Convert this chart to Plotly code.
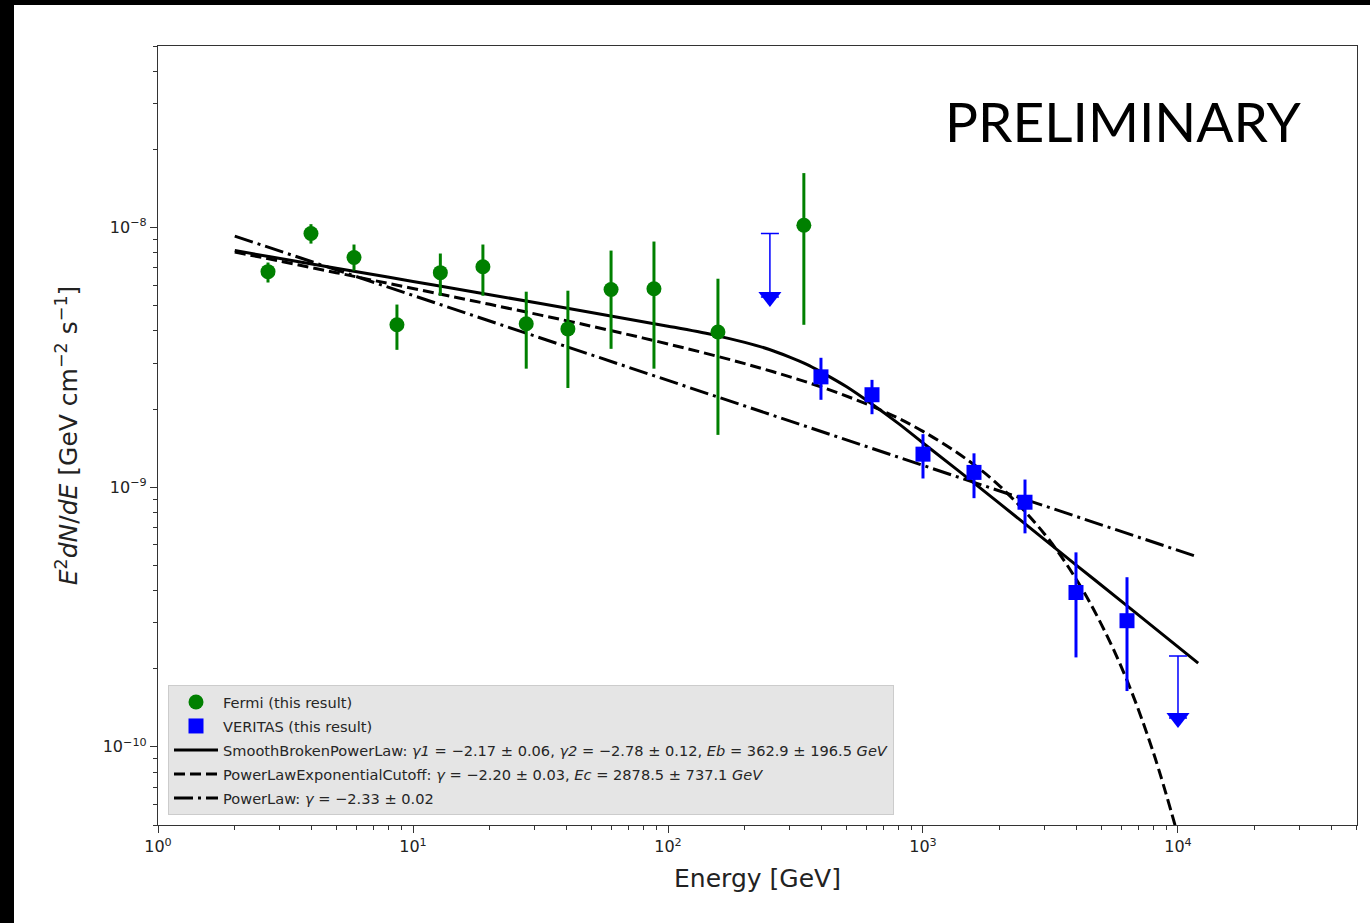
import plotly.graph_objects as go

# ---------------- data ----------------
fermi_E = [2.70, 3.98, 5.87, 8.65, 12.8, 18.8, 27.8, 40.5, 59.8, 88.1, 157, 341]
fermi_F = [6.76e-9, 9.48e-9, 7.66e-9, 4.22e-9, 6.70e-9, 7.06e-9, 4.26e-9, 4.07e-9, 5.77e-9, 5.81e-9, 3.96e-9, 1.02e-8]
fermi_hi = [7.33e-9, 1.03e-8, 8.60e-9, 5.05e-9, 7.94e-9, 8.60e-9, 5.66e-9, 5.71e-9, 8.15e-9, 8.83e-9, 6.35e-9, 1.62e-8]
fermi_lo = [6.14e-9, 8.67e-9, 6.82e-9, 3.38e-9, 5.46e-9, 5.46e-9, 2.86e-9, 2.41e-9, 3.41e-9, 2.86e-9, 1.59e-9, 4.22e-9]

veritas_E = [398, 631, 1000, 1585, 2512, 3981, 6310]
veritas_F = [2.66e-9, 2.27e-9, 1.34e-9, 1.14e-9, 8.75e-10, 3.93e-10, 3.06e-10]
veritas_hi = [3.15e-9, 2.59e-9, 1.60e-9, 1.35e-9, 1.07e-9, 5.61e-10, 4.50e-10]
veritas_lo = [2.17e-9, 1.91e-9, 1.08e-9, 9.07e-10, 6.64e-10, 2.21e-10, 1.64e-10]

ul_E = [251, 10000]
ul_F = [9.48e-9, 2.24e-10]
ul_tip = [5.4e-9, 1.29e-10]

sbpl_E = [2, 5, 10, 20, 50, 100, 150, 200, 250, 300, 350, 400, 500, 630, 800, 1000, 1600, 2500, 4000, 6300, 12000]
sbpl_F = [8.15e-9, 6.97e-9, 6.20e-9, 5.51e-9, 4.71e-9, 4.17e-9, 3.86e-9, 3.61e-9, 3.39e-9, 3.17e-9,
          2.97e-9, 2.77e-9, 2.44e-9, 2.09e-9, 1.76e-9, 1.48e-9, 1.03e-9, 7.25e-10, 5.00e-10, 3.50e-10, 2.10e-10]

plec_E = [2, 5, 10, 20, 50, 100, 200, 400, 700, 1000, 1500, 2000, 3000, 4000, 5000, 6300, 8000, 10000]
plec_F = [8.05e-9, 6.70e-9, 5.82e-9, 5.06e-9, 4.17e-9, 3.56e-9, 2.99e-9, 2.43e-9, 1.96e-9, 1.64e-9,
          1.27e-9, 1.01e-9, 6.59e-10, 4.40e-10, 2.97e-10, 1.81e-10, 9.53e-11, 4.55e-11]

pl_E = [2, 5, 10, 20, 50, 100, 200, 500, 1000, 2000, 5000, 12000]
pl_F = [9.27e-9, 6.87e-9, 5.47e-9, 4.36e-9, 3.23e-9, 2.58e-9, 2.06e-9, 1.52e-9, 1.21e-9, 9.68e-10, 7.16e-10, 5.38e-10]

x_major = [1, 10, 100, 1000, 10000]
x_major_text = ["10<sup>0</sup>", "10<sup>1</sup>", "10<sup>2</sup>", "10<sup>3</sup>", "10<sup>4</sup>"]
y_major = [1e-10, 1e-9, 1e-8]
y_major_text = ["10<sup>\u221210</sup>", "10<sup>\u22129</sup>", "10<sup>\u22128</sup>"]

labels = [
    "Fermi (this result)",
    "VERITAS (this result)",
    "SmoothBrokenPowerLaw: <i>\u03b31</i> = \u22122.17 \u00b1 0.06, <i>\u03b32</i> = \u22122.78 \u00b1 0.12, <i>Eb</i> = 362.9 \u00b1 196.5 <i>GeV</i>",
    "PowerLawExponentialCutoff: <i>\u03b3</i> = \u22122.20 \u00b1 0.03, <i>Ec</i> = 2878.5 \u00b1 737.1 <i>GeV</i>",
    "PowerLaw: <i>\u03b3</i> = \u22122.33 \u00b1 0.02",
]

x_minor = [m * 10 ** k for k in range(0, 5) for m in range(2, 10)]
y_minor = [m * 10.0 ** k for k in range(-11, -7) for m in range(2, 10)]

FONT = "DejaVu Sans"
fig = go.Figure()

# model lines
fig.add_trace(go.Scatter(x=sbpl_E, y=sbpl_F, mode="lines", name=labels[2], legendgroup="c", legendrank=3,
                         line=dict(color="black", width=3, shape="spline")))
fig.add_trace(go.Scatter(x=plec_E, y=plec_F, mode="lines", name=labels[3], legendgroup="d", legendrank=4,
                         line=dict(color="black", width=3, dash="11px,5px", shape="spline")))
fig.add_trace(go.Scatter(x=pl_E, y=pl_F, mode="lines", name=labels[4], legendgroup="e", legendrank=5,
                         line=dict(color="black", width=3, dash="19px,5px,3px,5px")))

# upper limits
fig.add_trace(go.Scatter(
    x=ul_E, y=ul_tip, mode="markers", showlegend=False,
    marker=dict(symbol="triangle-down", size=20, color="#0000ff"),
    error_y=dict(type="data", symmetric=False,
                 array=[u - t for u, t in zip(ul_F, ul_tip)], arrayminus=[0] * len(ul_F),
                 color="#0000ff", thickness=1.5, width=9)))

# Fermi points
fig.add_trace(go.Scatter(
    x=fermi_E, y=fermi_F, mode="markers", name=labels[0], legendgroup="a", legendrank=1,
    marker=dict(symbol="circle", size=15, color="#008000"),
    error_y=dict(type="data", symmetric=False,
                 array=[h - f for h, f in zip(fermi_hi, fermi_F)],
                 arrayminus=[f - l for f, l in zip(fermi_F, fermi_lo)],
                 color="#008000", thickness=3, width=0)))

# VERITAS points
fig.add_trace(go.Scatter(
    x=veritas_E, y=veritas_F, mode="markers", name=labels[1], legendgroup="b", legendrank=2,
    marker=dict(symbol="square", size=15, color="#0000ff"),
    error_y=dict(type="data", symmetric=False,
                 array=[h - f for h, f in zip(veritas_hi, veritas_F)],
                 arrayminus=[f - l for f, l in zip(veritas_F, veritas_lo)],
                 color="#0000ff", thickness=3, width=0)))

L, R, T, B = 158, 13, 46, 98
W, H = 1370, 923
pw, ph = W - L - R, H - T - B

def px2x(p):
    return (p - L) / pw

def py2y(p):
    return (H - B - p) / ph

fig.update_layout(
    width=W, height=H,
    margin=dict(l=L, r=R, t=T, b=B, autoexpand=False),
    paper_bgcolor="white", plot_bgcolor="white",
    font=dict(family=FONT, color="#222222"),
    legend=dict(
        x=px2x(168), y=py2y(815), xanchor="left", yanchor="bottom",
        bgcolor="#e5e5e5", bordercolor="#cccccc", borderwidth=1,
        font=dict(family=FONT, size=14.6, color="#262626"),
        traceorder="grouped", tracegroupgap=2, itemwidth=44,
    ),
    xaxis=dict(
        type="log", range=[0, 4.702], showgrid=False, zeroline=False,
        showline=True, mirror=True, linecolor="#333333", linewidth=1.3,
        tickmode="array", tickvals=x_major, ticktext=x_major_text,
        ticks="outside", ticklen=7, tickwidth=1.3, tickcolor="#333333",
        tickfont=dict(family=FONT, size=16, color="#222222"),
        minor=dict(tickmode="array", tickvals=x_minor, ticks="outside", ticklen=4,
                   tickwidth=1, tickcolor="#333333", showgrid=False),
        title=dict(text="Energy [GeV]", font=dict(family=FONT, size=25, color="#222222"), standoff=14),
    ),
    yaxis=dict(
        type="log", range=[-10.301, -7.301], showgrid=False, zeroline=False,
        showline=True, mirror=True, linecolor="#333333", linewidth=1.3,
        tickmode="array", tickvals=y_major, ticktext=y_major_text,
        ticks="outside", ticklen=7, tickwidth=1.3, tickcolor="#333333",
        tickfont=dict(family=FONT, size=16, color="#222222"),
        minor=dict(tickmode="array", tickvals=y_minor, ticks="outside", ticklen=4,
                   tickwidth=1, tickcolor="#333333", showgrid=False),
        title=dict(text="<i>E</i><sup>2</sup><i>dN</i>/<i>dE</i> [GeV cm<sup>\u22122</sup> s<sup>\u22121</sup>]",
                   font=dict(family=FONT, size=25, color="#222222"), standoff=17),
    ),
    annotations=[dict(
        text="PRELIMINARY", xref="paper", yref="paper",
        x=px2x(1123), y=py2y(121), xanchor="center", yanchor="middle",
        showarrow=False, font=dict(family="Lato", size=55, color="black"),
    )],
    shapes=[
        dict(type="rect", xref="paper", yref="paper", x0=px2x(0), x1=px2x(14), y0=py2y(H), y1=py2y(0),
             fillcolor="black", line=dict(width=0), layer="above"),
        dict(type="rect", xref="paper", yref="paper", x0=px2x(0), x1=px2x(W), y0=py2y(5), y1=py2y(0),
             fillcolor="black", line=dict(width=0), layer="above"),
    ],
)

fig.write_html("out.html")
